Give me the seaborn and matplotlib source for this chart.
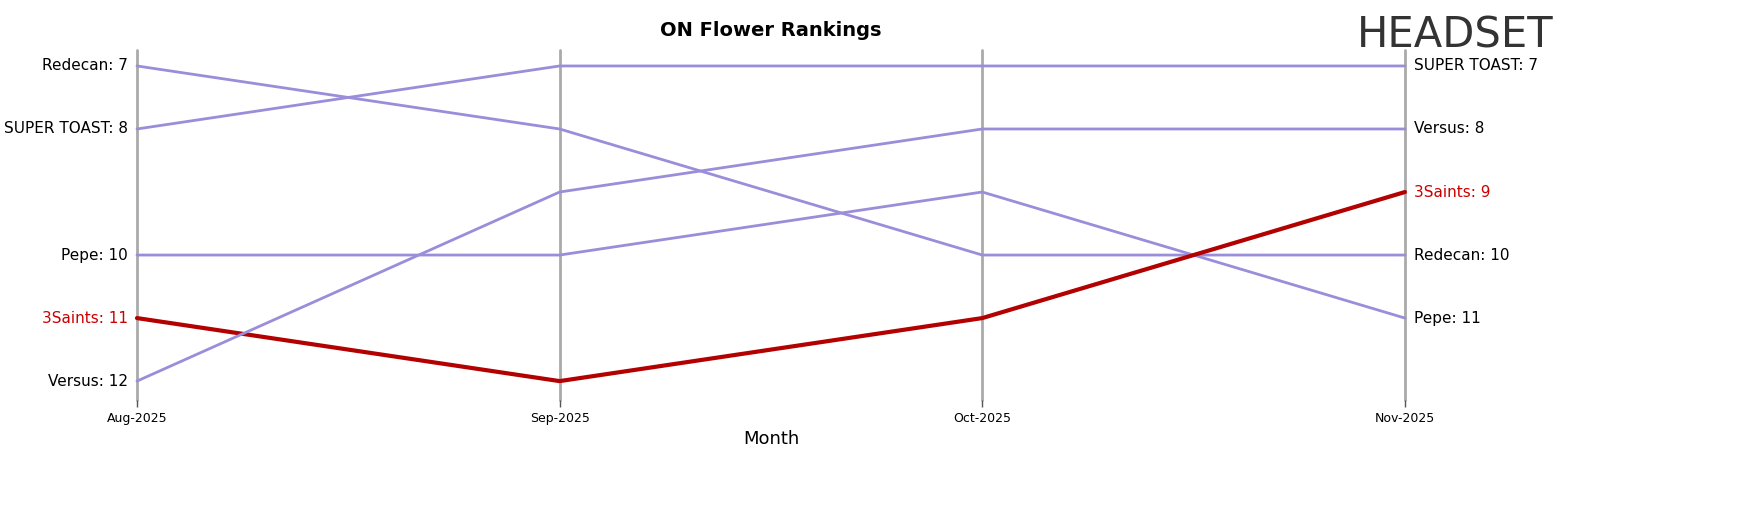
import matplotlib
matplotlib.use("Agg")
import matplotlib.pyplot as plt
import seaborn as sns
import pandas as pd

months = ["Aug-2025", "Sep-2025", "Oct-2025", "Nov-2025"]
brands = ["Redecan", "SUPER TOAST", "Pepe", "3Saints", "Versus"]
redecan = [7, 8, 10, 10]
super_toast = [8, 7, 7, 7]
pepe = [10, 10, 9, 11]
saints = [11, 12, 11, 9]
versus = [12, 9, 8, 8]
highlight = "3Saints"

ranks = [redecan, super_toast, pepe, saints, versus]
rows = []
for b, r in zip(brands, ranks):
    for i, (m, v) in enumerate(zip(months, r)):
        rows.append({"brand": b, "x": i, "rank": v})
df = pd.DataFrame(rows)

sns.set_style("white")
plt.rcParams["text.color"] = "black"
plt.rcParams["axes.labelcolor"] = "black"
plt.rcParams["xtick.color"] = "black"
fig = plt.figure(figsize=(17.65, 5.07), dpi=100)
ax = fig.add_axes([0.0776, 0.211, 0.7184, 0.69])

for i in range(len(months)):
    ax.axvline(i, color="#aaaaaa", lw=2, zorder=0, clip_on=False)

palette = {b: ("#b30000" if b == highlight else "#9b8dd9") for b in brands}
sizes = {b: (3 if b == highlight else 2) for b in brands}
sns.lineplot(data=df, x="x", y="rank", hue="brand", palette=palette,
             size="brand", sizes=sizes, legend=False, ax=ax)
for ln in ax.get_lines():
    ln.set_clip_on(False)

ax.set_ylim(12.3, 6.75)
ax.set_xlim(0, len(months) - 1)
ax.set_xticks(range(len(months)))
ax.set_xticklabels(months, fontsize=9)
ax.tick_params(axis="x", length=5, width=1, color="#555555", bottom=True)
ax.set_yticks([])
ax.set_ylabel("")
ax.set_xlabel("Month", fontsize=13)
for s in ax.spines.values():
    s.set_visible(False)

for b, r in zip(brands, ranks):
    c = "#cc0000" if b == highlight else "black"
    ax.text(-0.022, r[0], f"{b}: {r[0]}", ha="right", va="center", fontsize=11, color=c)
    ax.text(3.022, r[-1], f"{b}: {r[-1]}", ha="left", va="center", fontsize=11, color=c)

ax.set_title("ON Flower Rankings", fontsize=14, fontweight="bold", pad=10)
fig.text(0.88, 0.93, "HEADSET", fontsize=30, color="#333333", ha="right", va="center")
fig.savefig("out.png")
